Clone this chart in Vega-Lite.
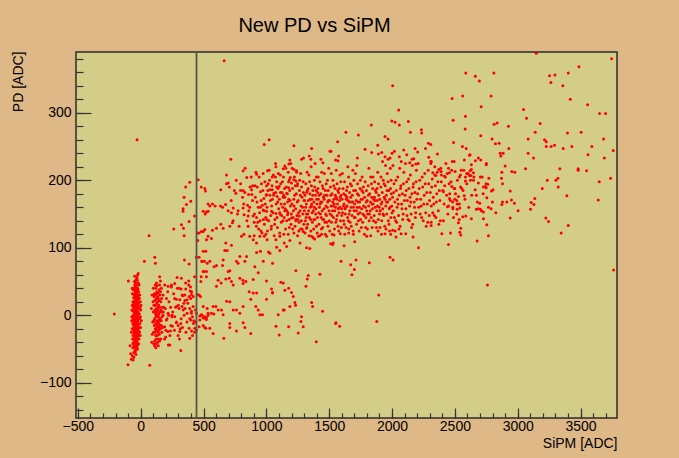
{
"$schema":"https://vega.github.io/schema/vega-lite/v6.json",
"width":541,"height":366,"autosize":"none",
"padding":{"left":76,"top":52,"right":62,"bottom":40},
"background":"#deb887",
"title":{"text":"New PD vs SiPM","font":"Liberation Sans","fontSize":20,"fontWeight":"normal","color":"#000000","anchor":"middle","dx":-32,"offset":-1,"baseline":"alphabetic","frame":"group"},
"config":{"view":{"fill":"#d4cd88","stroke":"#2b2b2b","strokeWidth":1.5},
"axis":{"grid":false,"domain":false,"labelFont":"Liberation Sans","labelFontSize":14,"labelColor":"#000000","titleFont":"Liberation Sans","titleFontSize":14,"titleFontWeight":"normal","titleColor":"#000000","tickColor":"#333333","tickWidth":1.2,"labelFlush":false,"labelOverlap":false,"labelBound":false}},
"datasets":{
"v":[{"x":444,"y":0}],
"p":[
{"x":-45,"y":2},{"x":-38,"y":10},{"x":-30,"y":-5},{"x":-52,"y":15},{"x":-25,"y":22},{"x":-40,"y":-18},{"x":-33,"y":30},{"x":-48,"y":-28},{"x":-20,"y":5},{"x":-58,"y":0},
{"x":-35,"y":-12},{"x":-42,"y":25},{"x":-28,"y":-25},{"x":-55,"y":-10},{"x":-22,"y":-15},{"x":-37,"y":38},{"x":-47,"y":-40},{"x":-30,"y":14},{"x":-62,"y":20},{"x":-18,"y":-30},
{"x":-41,"y":-3},{"x":-26,"y":33},{"x":-50,"y":8},{"x":-34,"y":-35},{"x":-44,"y":42},{"x":-23,"y":-8},{"x":-57,"y":-22},{"x":-31,"y":0},{"x":-39,"y":18},{"x":-46,"y":-14},
{"x":-29,"y":-42},{"x":-53,"y":30},{"x":-36,"y":7},{"x":-21,"y":27},{"x":-60,"y":-5},{"x":-43,"y":-25},{"x":-27,"y":12},{"x":-49,"y":-33},{"x":-32,"y":45},{"x":-38,"y":-20},
{"x":-24,"y":-2},{"x":-55,"y":40},{"x":-40,"y":3},{"x":-28,"y":-10},{"x":-51,"y":-45},{"x":-35,"y":24},{"x":-19,"y":18},{"x":-45,"y":-8},{"x":-30,"y":-30},{"x":-58,"y":12},
{"x":-42,"y":35},{"x":-26,"y":-20},{"x":-48,"y":20},{"x":-33,"y":-15},{"x":-22,"y":38},{"x":-54,"y":-35},{"x":-37,"y":-5},{"x":-29,"y":8},{"x":-44,"y":-38},{"x":-31,"y":28},
{"x":-64,"y":-12},{"x":-25,"y":-35},{"x":-47,"y":5},{"x":-39,"y":-28},{"x":-20,"y":-22},{"x":-52,"y":-18},{"x":-34,"y":16},{"x":-41,"y":48},{"x":-27,"y":-45},{"x":-56,"y":26},
{"x":-36,"y":-40},{"x":-23,"y":15},{"x":-49,"y":-2},{"x":-32,"y":-22},{"x":-45,"y":32},{"x":-30,"y":20},{"x":-61,"y":-30},{"x":-38,"y":-10},{"x":-24,"y":40},{"x":-50,"y":-25},
{"x":-35,"y":4},{"x":-43,"y":15},{"x":-28,"y":-32},{"x":-53,"y":-8},{"x":-40,"y":-45},{"x":-26,"y":0},{"x":-46,"y":22},{"x":-33,"y":36},{"x":-57,"y":-40},{"x":-21,"y":-12},
{"x":-39,"y":28},{"x":-48,"y":-12},{"x":-30,"y":-18},{"x":-44,"y":8},{"x":-25,"y":25},{"x":-36,"y":-28},{"x":-51,"y":38},{"x":-29,"y":-38},{"x":-42,"y":-20},{"x":-34,"y":-2},
{"x":-15,"y":10},{"x":-12,"y":-18},{"x":-10,"y":25},{"x":-8,"y":-5},{"x":-5,"y":12},{"x":-14,"y":-35},{"x":-70,"y":8},{"x":-68,"y":-20},{"x":-66,"y":32},{"x":-72,"y":-8},
{"x":-16,"y":35},{"x":-11,"y":2},{"x":-65,"y":-35},{"x":-9,"y":-25},{"x":-67,"y":15},{"x":-63,"y":-48},{"x":-6,"y":-12},{"x":-13,"y":45},{"x":-71,"y":-2},{"x":-3,"y":20},
{"x":-40,"y":52},{"x":-30,"y":55},{"x":-45,"y":-52},{"x":-35,"y":-50},{"x":-50,"y":50},{"x":-25,"y":-50},{"x":-38,"y":-58},{"x":-28,"y":52},{"x":-55,"y":-55},{"x":-42,"y":-48},
{"x":-60,"y":38},{"x":-18,"y":48},{"x":-62,"y":-42},{"x":-16,"y":-42},{"x":-47,"y":45},{"x":-33,"y":-48},{"x":-22,"y":-28},{"x":-59,"y":6},{"x":-37,"y":22},{"x":-43,"y":-32},
{"x":-31,"y":-8},{"x":-27,"y":18},{"x":-49,"y":28},{"x":-53,"y":-28},{"x":-36,"y":10},{"x":-24,"y":-18},{"x":-41,"y":-12},{"x":-46,"y":-22},{"x":-32,"y":4},{"x":-39,"y":42},
{"x":-20,"y":30},{"x":-56,"y":-15},{"x":-28,"y":28},{"x":-44,"y":-5},{"x":-34,"y":-42},{"x":-52,"y":2},{"x":-26,"y":-5},{"x":-38,"y":-35},{"x":-47,"y":12},{"x":-30,"y":35},
{"x":-54,"y":18},{"x":-2,"y":-2},{"x":0,"y":8},{"x":-4,"y":-30},{"x":2,"y":15},{"x":-7,"y":30},{"x":-1,"y":-18},{"x":5,"y":-8},{"x":-68,"y":40},{"x":-74,"y":-25},
{"x":-80,"y":-57},{"x":-61,"y":-66},{"x":-66,"y":-60},{"x":-43,"y":-54},{"x":-101,"y":-73},{"x":-27,"y":59},{"x":-98,"y":51},{"x":-210,"y":2},{"x":-29,"y":260},{"x":-75,"y":-65},{"x":-55,"y":-62},{"x":-48,"y":58},{"x":-20,"y":62},{"x":-85,"y":-45},
{"x":120,"y":5},{"x":135,"y":-10},{"x":128,"y":18},{"x":145,"y":2},{"x":110,"y":-5},{"x":140,"y":25},{"x":125,"y":-22},{"x":150,"y":12},{"x":115,"y":30},{"x":132,"y":-30},
{"x":105,"y":15},{"x":142,"y":-18},{"x":118,"y":-12},{"x":155,"y":-5},{"x":128,"y":35},{"x":138,"y":8},{"x":112,"y":22},{"x":148,"y":-28},{"x":122,"y":-35},{"x":160,"y":20},
{"x":130,"y":0},{"x":126,"y":10},{"x":140,"y":-2},{"x":116,"y":-20},{"x":152,"y":30},{"x":108,"y":-15},{"x":134,"y":28},{"x":145,"y":-12},{"x":120,"y":40},{"x":158,"y":-20},
{"x":100,"y":5},{"x":127,"y":-8},{"x":143,"y":15},{"x":113,"y":8},{"x":137,"y":-25},{"x":150,"y":-38},{"x":124,"y":25},{"x":102,"y":-25},{"x":147,"y":38},{"x":131,"y":-15},
{"x":119,"y":-30},{"x":154,"y":5},{"x":109,"y":32},{"x":141,"y":-35},{"x":129,"y":44},{"x":163,"y":-8},{"x":98,"y":20},{"x":136,"y":12},{"x":121,"y":-2},{"x":146,"y":22},
{"x":111,"y":-38},{"x":157,"y":35},{"x":133,"y":20},{"x":117,"y":15},{"x":149,"y":-5},{"x":125,"y":-42},{"x":104,"y":-8},{"x":139,"y":33},{"x":162,"y":8},{"x":114,"y":-25},
{"x":132,"y":5},{"x":127,"y":-18},{"x":144,"y":-22},{"x":118,"y":2},{"x":153,"y":-15},{"x":106,"y":28},{"x":138,"y":-8},{"x":123,"y":32},{"x":166,"y":25},{"x":95,"y":-10},
{"x":170,"y":-2},{"x":174,"y":12},{"x":168,"y":-25},{"x":90,"y":30},{"x":92,"y":-28},{"x":175,"y":-18},{"x":180,"y":5},{"x":85,"y":10},{"x":88,"y":-40},{"x":178,"y":30},
{"x":134,"y":-40},{"x":126,"y":48},{"x":115,"y":45},{"x":150,"y":45},{"x":110,"y":-45},{"x":140,"y":-45},{"x":160,"y":-35},{"x":100,"y":40},{"x":165,"y":40},{"x":120,"y":-48},
{"x":195,"y":10},{"x":210,"y":-5},{"x":225,"y":20},{"x":240,"y":-15},{"x":255,"y":5},{"x":270,"y":25},{"x":285,"y":-10},{"x":300,"y":15},{"x":315,"y":-20},{"x":330,"y":30},
{"x":345,"y":0},{"x":360,"y":-25},{"x":375,"y":18},{"x":390,"y":-5},{"x":405,"y":35},{"x":420,"y":-12},{"x":435,"y":8},{"x":200,"y":-22},{"x":232,"y":-30},{"x":262,"y":32},
{"x":292,"y":40},{"x":322,"y":-5},{"x":352,"y":22},{"x":382,"y":45},{"x":412,"y":-30},{"x":248,"y":-2},{"x":278,"y":12},{"x":308,"y":-35},{"x":338,"y":8},{"x":368,"y":-10},
{"x":398,"y":25},{"x":428,"y":-25},{"x":215,"y":35},{"x":245,"y":45},{"x":190,"y":-35},{"x":205,"y":25},{"x":222,"y":0},{"x":238,"y":12},{"x":268,"y":-22},{"x":298,"y":-15},
{"x":66,"y":118},{"x":29,"y":80},{"x":112,"y":86},{"x":117,"y":77},{"x":72,"y":-74},{"x":319,"y":-52},{"x":104,"y":-42},{"x":220,"y":-44},{"x":231,"y":-44},{"x":385,"y":76},
{"x":348,"y":82},{"x":398,"y":169},{"x":364,"y":164},{"x":337,"y":158},{"x":337,"y":154},{"x":385,"y":139},{"x":324,"y":134},{"x":340,"y":129},{"x":345,"y":118},{"x":263,"y":128},
{"x":428,"y":147},{"x":451,"y":122},{"x":465,"y":122},{"x":497,"y":124},{"x":513,"y":150},{"x":497,"y":154},{"x":536,"y":165},{"x":521,"y":153},{"x":454,"y":111},{"x":465,"y":86},
{"x":443,"y":86},{"x":497,"y":95},{"x":518,"y":95},{"x":489,"y":80},{"x":529,"y":77},{"x":478,"y":50},{"x":502,"y":65},{"x":523,"y":57},{"x":465,"y":30},{"x":451,"y":31},
{"x":475,"y":28},{"x":428,"y":57},{"x":382,"y":51},{"x":396,"y":42},{"x":393,"y":36},{"x":358,"y":48},{"x":324,"y":55},{"x":289,"y":56},{"x":271,"y":47},{"x":305,"y":40},
{"x":244,"y":42},{"x":218,"y":43},{"x":191,"y":45},{"x":157,"y":51},{"x":151,"y":57},{"x":284,"y":24},{"x":311,"y":23},{"x":335,"y":29},{"x":343,"y":18},{"x":390,"y":10},
{"x":404,"y":6},{"x":369,"y":3},{"x":412,"y":-2},{"x":398,"y":-7},{"x":430,"y":-19},{"x":443,"y":-22},{"x":438,"y":-10},{"x":489,"y":0},{"x":510,"y":-2},{"x":523,"y":-6},
{"x":536,"y":0},{"x":497,"y":-15},{"x":518,"y":-19},{"x":497,"y":13},{"x":529,"y":10},{"x":470,"y":-7},{"x":385,"y":-19},{"x":404,"y":-23},{"x":390,"y":-34},{"x":319,"y":-12},
{"x":332,"y":-18},{"x":311,"y":-24},{"x":297,"y":-30},{"x":250,"y":0},{"x":271,"y":-2},{"x":284,"y":-11},{"x":252,"y":-16},{"x":236,"y":-23},{"x":218,"y":3},{"x":204,"y":-7},
{"x":191,"y":-17},{"x":215,"y":-24},{"x":199,"y":-32},{"x":165,"y":5},{"x":183,"y":12},{"x":151,"y":-7},{"x":165,"y":-15},{"x":178,"y":0},{"x":284,"y":13},{"x":305,"y":10},
{"x":329,"y":13},{"x":353,"y":10},{"x":369,"y":23},{"x":321,"y":39},{"x":358,"y":39},{"x":404,"y":31},{"x":417,"y":28},{"x":385,"y":28},{"x":351,"y":30},{"x":664,"y":377},
{"x":390,"y":197},{"x":358,"y":190},{"x":345,"y":175},
{"x":1022,"y":260},{"x":983,"y":253},{"x":1219,"y":251},{"x":717,"y":231},{"x":1360,"y":247},{"x":1073,"y":225},{"x":1076,"y":220},{"x":1187,"y":230},{"x":1179,"y":224},{"x":1147,"y":221},
{"x":1134,"y":217},{"x":1219,"y":216},{"x":1240,"y":214},{"x":1280,"y":231},{"x":1296,"y":233},{"x":1341,"y":236},{"x":1354,"y":231},{"x":1434,"y":231},{"x":1450,"y":226},{"x":1514,"y":243},
{"x":1551,"y":230},{"x":815,"y":214},{"x":831,"y":218},{"x":1009,"y":214},{"x":683,"y":208},{"x":922,"y":209},{"x":844,"y":204},{"x":457,"y":201},{"x":1046,"y":205},{"x":481,"y":190},
{"x":510,"y":188},{"x":515,"y":184},{"x":637,"y":186},{"x":683,"y":195},{"x":696,"y":196},{"x":794,"y":185},{"x":815,"y":185},{"x":829,"y":182},{"x":882,"y":186},{"x":890,"y":192},
{"x":858,"y":179},{"x":884,"y":179},{"x":757,"y":181},{"x":1001,"y":192},{"x":1028,"y":186},{"x":1046,"y":186},{"x":1081,"y":190},{"x":1102,"y":191},{"x":1001,"y":179},{"x":980,"y":173},
{"x":1060,"y":181},{"x":1086,"y":176},{"x":1137,"y":178},{"x":1161,"y":181},{"x":1177,"y":189},{"x":1182,"y":201},{"x":1190,"y":204},{"x":1200,"y":196},{"x":1219,"y":201},{"x":1235,"y":199},
{"x":1245,"y":192},{"x":550,"y":162},{"x":571,"y":165},{"x":592,"y":162},{"x":536,"y":154},{"x":635,"y":162},{"x":651,"y":160},{"x":675,"y":164},{"x":696,"y":155},{"x":722,"y":152},
{"x":736,"y":159},{"x":775,"y":155},{"x":815,"y":159},{"x":850,"y":163},{"x":868,"y":160},{"x":823,"y":149},{"x":855,"y":147},{"x":895,"y":147},{"x":953,"y":160},{"x":975,"y":156},
{"x":1001,"y":154},{"x":1041,"y":154},{"x":1076,"y":151},{"x":1107,"y":152},{"x":1147,"y":155},{"x":1168,"y":149},{"x":1200,"y":144},{"x":1235,"y":142},{"x":1262,"y":147},{"x":922,"y":145},
{"x":903,"y":138},{"x":855,"y":132},{"x":783,"y":132},{"x":709,"y":132},{"x":730,"y":137},{"x":637,"y":135},{"x":656,"y":129},{"x":603,"y":129},{"x":571,"y":126},{"x":483,"y":124},
{"x":510,"y":127},{"x":536,"y":117},{"x":563,"y":114},{"x":523,"y":112},{"x":677,"y":107},{"x":722,"y":104},{"x":669,"y":96},{"x":688,"y":96},{"x":821,"y":120},{"x":802,"y":117},
{"x":868,"y":117},{"x":895,"y":112},{"x":922,"y":107},{"x":948,"y":117},{"x":983,"y":117},{"x":1006,"y":112},{"x":1076,"y":112},{"x":1107,"y":117},{"x":1174,"y":120},{"x":1187,"y":111},
{"x":1142,"y":107},{"x":1161,"y":102},{"x":1219,"y":122},{"x":1248,"y":118},{"x":1267,"y":107},{"x":1360,"y":117},{"x":1384,"y":113},{"x":1346,"y":99},{"x":1320,"y":100},{"x":1320,"y":129},
{"x":1293,"y":124},{"x":1272,"y":128},{"x":1439,"y":120},{"x":1413,"y":117},{"x":1479,"y":117},{"x":1511,"y":106},{"x":1532,"y":107},{"x":1081,"y":101},{"x":1107,"y":96},{"x":1028,"y":92},
{"x":842,"y":87},{"x":789,"y":87},{"x":762,"y":80},{"x":775,"y":77},{"x":829,"y":80},{"x":922,"y":93},{"x":953,"y":95},{"x":975,"y":80},{"x":1017,"y":94},{"x":1049,"y":77},
{"x":486,"y":80},{"x":507,"y":80},{"x":523,"y":65},{"x":497,"y":65},{"x":481,"y":57},{"x":550,"y":80},{"x":584,"y":72},{"x":603,"y":74},{"x":651,"y":74},{"x":656,"y":82},
{"x":696,"y":65},{"x":709,"y":66},{"x":616,"y":52},{"x":640,"y":48},{"x":603,"y":43},{"x":677,"y":54},{"x":704,"y":55},{"x":722,"y":50},{"x":736,"y":45},{"x":789,"y":55},
{"x":813,"y":52},{"x":815,"y":47},{"x":837,"y":50},{"x":895,"y":53},{"x":935,"y":63},{"x":908,"y":72},{"x":1001,"y":51},{"x":1041,"y":39},{"x":1049,"y":33},{"x":1134,"y":48},
{"x":1147,"y":37},{"x":1177,"y":40},{"x":1200,"y":34},{"x":1214,"y":28},{"x":1227,"y":19},{"x":1232,"y":15},{"x":1187,"y":13},{"x":1235,"y":66},{"x":1325,"y":54},{"x":1333,"y":59},
{"x":1426,"y":61},{"x":1315,"y":43},{"x":1115,"y":49},{"x":1360,"y":19},{"x":1368,"y":13},{"x":863,"y":35},{"x":895,"y":33},{"x":922,"y":33},{"x":876,"y":24},{"x":916,"y":13},
{"x":935,"y":8},{"x":948,"y":1},{"x":969,"y":1},{"x":1001,"y":24},{"x":1049,"y":34},{"x":815,"y":13},{"x":789,"y":3},{"x":736,"y":8},{"x":762,"y":8},{"x":709,"y":20},
{"x":683,"y":21},{"x":643,"y":8},{"x":656,"y":1},{"x":616,"y":8},{"x":576,"y":13},{"x":598,"y":13},{"x":563,"y":3},{"x":582,"y":2},{"x":536,"y":3},{"x":523,"y":-3},
{"x":510,"y":-4},{"x":483,"y":1},{"x":470,"y":-1},{"x":497,"y":-4},{"x":443,"y":3},{"x":417,"y":13},{"x":422,"y":-8},{"x":403,"y":3},{"x":465,"y":-17},{"x":510,"y":-18},
{"x":550,"y":-19},{"x":576,"y":-27},{"x":661,"y":-34},{"x":709,"y":-12},{"x":709,"y":-18},{"x":762,"y":-23},{"x":815,"y":-11},{"x":829,"y":-18},{"x":876,"y":-27},{"x":1076,"y":-16},
{"x":1102,"y":-29},{"x":1177,"y":-17},{"x":1253,"y":-26},{"x":1293,"y":-17},{"x":1280,"y":-2},{"x":1275,"y":-9},{"x":1134,"y":8},{"x":1094,"y":1},{"x":1142,"y":8},{"x":1397,"y":-39},
{"x":1551,"y":-12},{"x":1447,"y":6},
{"x":720,"y":170},{"x":745,"y":185},{"x":770,"y":150},{"x":795,"y":195},{"x":820,"y":165},{"x":845,"y":140},{"x":870,"y":190},{"x":890,"y":170},{"x":735,"y":140},{"x":760,"y":200},{"x":810,"y":175},{"x":860,"y":155},{"x":880,"y":205},{"x":705,"y":190},
{"x":905,"y":150},{"x":912,"y":175},{"x":920,"y":132},{"x":928,"y":190},{"x":935,"y":160},{"x":942,"y":205},{"x":950,"y":140},{"x":958,"y":170},{"x":965,"y":122},{"x":972,"y":185},
{"x":980,"y":155},{"x":988,"y":198},{"x":995,"y":145},{"x":903,"y":118},{"x":917,"y":212},{"x":939,"y":128},{"x":953,"y":183},{"x":968,"y":163},{"x":984,"y":135},{"x":999,"y":178},
{"x":925,"y":168},{"x":946,"y":152},{"x":961,"y":195},{"x":976,"y":142},{"x":991,"y":165},{"x":909,"y":192},{"x":932,"y":138},{"x":957,"y":125},{"x":974,"y":210},{"x":996,"y":120},
{"x":1005,"y":160},{"x":1012,"y":185},{"x":1018,"y":140},{"x":1025,"y":200},{"x":1032,"y":170},{"x":1038,"y":128},{"x":1045,"y":192},{"x":1052,"y":152},{"x":1058,"y":178},{"x":1065,"y":135},
{"x":1072,"y":205},{"x":1078,"y":165},{"x":1085,"y":145},{"x":1092,"y":188},{"x":1098,"y":158},{"x":1008,"y":125},{"x":1022,"y":215},{"x":1035,"y":148},{"x":1048,"y":172},{"x":1062,"y":118},
{"x":1075,"y":182},{"x":1088,"y":130},{"x":1095,"y":210},{"x":1015,"y":195},{"x":1042,"y":162},{"x":1068,"y":142},{"x":1082,"y":198},{"x":1028,"y":178},{"x":1055,"y":208},{"x":1090,"y":168},
{"x":1003,"y":142},{"x":1040,"y":132},
{"x":1103,"y":172},{"x":1108,"y":150},{"x":1114,"y":195},{"x":1119,"y":138},{"x":1125,"y":182},{"x":1130,"y":160},{"x":1136,"y":205},{"x":1141,"y":145},{"x":1147,"y":175},{"x":1152,"y":128},
{"x":1158,"y":190},{"x":1163,"y":155},{"x":1169,"y":168},{"x":1174,"y":212},{"x":1180,"y":142},{"x":1185,"y":185},{"x":1191,"y":162},{"x":1196,"y":135},{"x":1106,"y":122},{"x":1111,"y":208},
{"x":1117,"y":165},{"x":1122,"y":148},{"x":1128,"y":198},{"x":1133,"y":175},{"x":1139,"y":120},{"x":1144,"y":188},{"x":1150,"y":158},{"x":1155,"y":218},{"x":1161,"y":140},{"x":1166,"y":180},
{"x":1172,"y":152},{"x":1177,"y":198},{"x":1183,"y":130},{"x":1188,"y":170},{"x":1194,"y":225},{"x":1199,"y":150},{"x":1112,"y":182},{"x":1145,"y":165},{"x":1178,"y":172},{"x":1132,"y":140},
{"x":1203,"y":165},{"x":1208,"y":188},{"x":1213,"y":145},{"x":1218,"y":172},{"x":1223,"y":205},{"x":1228,"y":132},{"x":1233,"y":158},{"x":1238,"y":180},{"x":1243,"y":148},{"x":1248,"y":195},
{"x":1253,"y":170},{"x":1258,"y":125},{"x":1263,"y":185},{"x":1268,"y":155},{"x":1273,"y":210},{"x":1278,"y":140},{"x":1283,"y":175},{"x":1288,"y":160},{"x":1293,"y":198},{"x":1298,"y":135},
{"x":1205,"y":218},{"x":1215,"y":155},{"x":1225,"y":178},{"x":1235,"y":140},{"x":1245,"y":168},{"x":1255,"y":152},{"x":1265,"y":200},{"x":1275,"y":162},{"x":1285,"y":128},{"x":1295,"y":182},
{"x":1210,"y":128},{"x":1230,"y":192},{"x":1250,"y":142},{"x":1270,"y":178},{"x":1290,"y":150},{"x":1220,"y":162},{"x":1240,"y":212},{"x":1260,"y":138},{"x":1280,"y":190},{"x":1300,"y":170},
{"x":1302,"y":155},{"x":1306,"y":178},{"x":1310,"y":140},{"x":1314,"y":195},{"x":1318,"y":165},{"x":1322,"y":130},{"x":1326,"y":185},{"x":1330,"y":150},{"x":1334,"y":170},{"x":1338,"y":208},
{"x":1342,"y":145},{"x":1346,"y":180},{"x":1350,"y":160},{"x":1354,"y":125},{"x":1358,"y":192},{"x":1362,"y":172},{"x":1366,"y":138},{"x":1370,"y":185},{"x":1374,"y":155},{"x":1378,"y":168},
{"x":1382,"y":200},{"x":1386,"y":142},{"x":1390,"y":178},{"x":1394,"y":158},{"x":1398,"y":132},{"x":1304,"y":170},{"x":1312,"y":160},{"x":1320,"y":182},{"x":1328,"y":135},{"x":1336,"y":155},
{"x":1344,"y":198},{"x":1352,"y":142},{"x":1360,"y":165},{"x":1368,"y":178},{"x":1376,"y":128},{"x":1384,"y":190},{"x":1392,"y":150},{"x":1400,"y":172},{"x":1316,"y":145},{"x":1332,"y":188},
{"x":1348,"y":172},{"x":1364,"y":152},{"x":1380,"y":160},{"x":1396,"y":185},{"x":1324,"y":212},{"x":1340,"y":118},{"x":1356,"y":220},{"x":1372,"y":115},{"x":1388,"y":225},{"x":1308,"y":122},
{"x":1378,"y":142},{"x":1358,"y":162},{"x":1318,"y":150},{"x":1398,"y":205},
{"x":1402,"y":165},{"x":1406,"y":145},{"x":1410,"y":188},{"x":1414,"y":172},{"x":1418,"y":135},{"x":1422,"y":160},{"x":1426,"y":198},{"x":1430,"y":150},{"x":1434,"y":180},{"x":1438,"y":128},
{"x":1442,"y":168},{"x":1446,"y":192},{"x":1450,"y":142},{"x":1454,"y":175},{"x":1458,"y":158},{"x":1462,"y":210},{"x":1466,"y":138},{"x":1470,"y":185},{"x":1474,"y":162},{"x":1478,"y":148},
{"x":1482,"y":178},{"x":1486,"y":200},{"x":1490,"y":132},{"x":1494,"y":170},{"x":1498,"y":155},{"x":1404,"y":122},{"x":1412,"y":205},{"x":1420,"y":178},{"x":1428,"y":165},{"x":1436,"y":145},
{"x":1444,"y":155},{"x":1452,"y":188},{"x":1460,"y":172},{"x":1468,"y":120},{"x":1476,"y":195},{"x":1484,"y":160},{"x":1492,"y":185},{"x":1500,"y":140},{"x":1416,"y":152},{"x":1432,"y":168},
{"x":1448,"y":130},{"x":1464,"y":178},{"x":1480,"y":138},{"x":1496,"y":218},{"x":1408,"y":182},{"x":1440,"y":212},{"x":1472,"y":150},{"x":1488,"y":168},{"x":1456,"y":142},{"x":1424,"y":118},
{"x":1502,"y":170},{"x":1506,"y":150},{"x":1510,"y":190},{"x":1514,"y":162},{"x":1518,"y":138},{"x":1522,"y":180},{"x":1526,"y":155},{"x":1530,"y":200},{"x":1534,"y":145},{"x":1538,"y":172},
{"x":1542,"y":128},{"x":1546,"y":188},{"x":1550,"y":160},{"x":1554,"y":175},{"x":1558,"y":142},{"x":1562,"y":195},{"x":1566,"y":165},{"x":1570,"y":132},{"x":1574,"y":182},{"x":1578,"y":152},
{"x":1582,"y":170},{"x":1586,"y":208},{"x":1590,"y":140},{"x":1594,"y":178},{"x":1598,"y":158},{"x":1504,"y":125},{"x":1512,"y":178},{"x":1520,"y":148},{"x":1528,"y":168},{"x":1536,"y":192},
{"x":1544,"y":155},{"x":1552,"y":138},{"x":1560,"y":172},{"x":1568,"y":185},{"x":1576,"y":125},{"x":1584,"y":160},{"x":1592,"y":198},{"x":1600,"y":148},{"x":1516,"y":210},{"x":1532,"y":162},
{"x":1548,"y":178},{"x":1564,"y":148},{"x":1580,"y":188},{"x":1596,"y":130},{"x":1524,"y":120},{"x":1556,"y":215},{"x":1588,"y":175},{"x":1540,"y":165},{"x":1572,"y":158},
{"x":1602,"y":172},{"x":1606,"y":152},{"x":1610,"y":188},{"x":1614,"y":140},{"x":1618,"y":165},{"x":1622,"y":198},{"x":1626,"y":158},{"x":1630,"y":178},{"x":1634,"y":130},{"x":1638,"y":185},
{"x":1642,"y":162},{"x":1646,"y":145},{"x":1650,"y":170},{"x":1654,"y":205},{"x":1658,"y":150},{"x":1662,"y":182},{"x":1666,"y":138},{"x":1670,"y":175},{"x":1674,"y":160},{"x":1678,"y":192},
{"x":1682,"y":148},{"x":1686,"y":168},{"x":1690,"y":125},{"x":1694,"y":185},{"x":1698,"y":155},{"x":1604,"y":210},{"x":1612,"y":162},{"x":1620,"y":135},{"x":1628,"y":150},{"x":1636,"y":172},
{"x":1644,"y":190},{"x":1652,"y":140},{"x":1660,"y":168},{"x":1668,"y":195},{"x":1676,"y":132},{"x":1684,"y":178},{"x":1692,"y":160},{"x":1700,"y":145},{"x":1616,"y":180},{"x":1632,"y":160},
{"x":1648,"y":220},{"x":1664,"y":155},{"x":1680,"y":168},{"x":1696,"y":200},{"x":1624,"y":120},{"x":1656,"y":128},{"x":1688,"y":215},{"x":1640,"y":175},
{"x":1702,"y":165},{"x":1706,"y":145},{"x":1710,"y":185},{"x":1714,"y":170},{"x":1718,"y":135},{"x":1722,"y":160},{"x":1726,"y":195},{"x":1730,"y":150},{"x":1734,"y":178},{"x":1738,"y":125},
{"x":1742,"y":168},{"x":1746,"y":188},{"x":1750,"y":142},{"x":1754,"y":172},{"x":1758,"y":158},{"x":1762,"y":205},{"x":1766,"y":138},{"x":1770,"y":182},{"x":1774,"y":162},{"x":1778,"y":148},
{"x":1782,"y":175},{"x":1786,"y":198},{"x":1790,"y":130},{"x":1794,"y":168},{"x":1798,"y":155},{"x":1708,"y":210},{"x":1716,"y":155},{"x":1724,"y":180},{"x":1732,"y":140},{"x":1740,"y":160},
{"x":1748,"y":200},{"x":1756,"y":130},{"x":1764,"y":172},{"x":1772,"y":190},{"x":1780,"y":120},{"x":1788,"y":160},{"x":1796,"y":185},{"x":1720,"y":222},{"x":1744,"y":152},{"x":1768,"y":150},
{"x":1792,"y":145},{"x":1728,"y":168},{"x":1760,"y":185},
{"x":1802,"y":170},{"x":1806,"y":150},{"x":1810,"y":192},{"x":1814,"y":162},{"x":1818,"y":140},{"x":1822,"y":180},{"x":1826,"y":155},{"x":1830,"y":205},{"x":1834,"y":145},{"x":1838,"y":175},
{"x":1842,"y":130},{"x":1846,"y":188},{"x":1850,"y":165},{"x":1854,"y":172},{"x":1858,"y":148},{"x":1862,"y":198},{"x":1866,"y":160},{"x":1870,"y":138},{"x":1874,"y":182},{"x":1878,"y":155},
{"x":1882,"y":170},{"x":1886,"y":212},{"x":1890,"y":142},{"x":1894,"y":178},{"x":1898,"y":160},{"x":1804,"y":128},{"x":1812,"y":178},{"x":1820,"y":150},{"x":1828,"y":168},{"x":1836,"y":195},
{"x":1844,"y":158},{"x":1852,"y":140},{"x":1860,"y":175},{"x":1868,"y":185},{"x":1876,"y":130},{"x":1884,"y":162},{"x":1892,"y":195},{"x":1900,"y":150},{"x":1816,"y":218},{"x":1840,"y":165},
{"x":1864,"y":170},{"x":1888,"y":125},{"x":1848,"y":205},{"x":1880,"y":188},
{"x":1902,"y":172},{"x":1906,"y":155},{"x":1910,"y":190},{"x":1914,"y":165},{"x":1918,"y":140},{"x":1922,"y":182},{"x":1926,"y":158},{"x":1930,"y":200},{"x":1934,"y":148},{"x":1938,"y":175},
{"x":1942,"y":132},{"x":1946,"y":192},{"x":1950,"y":162},{"x":1954,"y":178},{"x":1958,"y":150},{"x":1962,"y":210},{"x":1966,"y":168},{"x":1970,"y":140},{"x":1974,"y":185},{"x":1978,"y":158},
{"x":1982,"y":172},{"x":1986,"y":218},{"x":1990,"y":145},{"x":1994,"y":180},{"x":1998,"y":162},{"x":1904,"y":130},{"x":1912,"y":205},{"x":1920,"y":168},{"x":1928,"y":150},{"x":1936,"y":195},
{"x":1944,"y":172},{"x":1952,"y":128},{"x":1960,"y":185},{"x":1968,"y":198},{"x":1976,"y":135},{"x":1984,"y":160},{"x":1992,"y":200},{"x":2000,"y":152},{"x":1916,"y":120},{"x":1948,"y":222},
{"x":1980,"y":125},{"x":1924,"y":228},{"x":1956,"y":168},{"x":1988,"y":188},
{"x":2004,"y":175},{"x":2010,"y":155},{"x":2016,"y":195},{"x":2022,"y":168},{"x":2028,"y":140},{"x":2034,"y":185},{"x":2040,"y":160},{"x":2046,"y":205},{"x":2052,"y":148},{"x":2058,"y":178},
{"x":2064,"y":132},{"x":2070,"y":192},{"x":2076,"y":165},{"x":2082,"y":180},{"x":2088,"y":150},{"x":2094,"y":212},{"x":2098,"y":170},{"x":2007,"y":222},{"x":2019,"y":145},{"x":2031,"y":200},
{"x":2043,"y":172},{"x":2055,"y":128},{"x":2067,"y":188},{"x":2079,"y":158},{"x":2091,"y":195},{"x":2013,"y":182},{"x":2037,"y":138},{"x":2061,"y":218},{"x":2085,"y":142},{"x":2049,"y":165},
{"x":2073,"y":228},{"x":2025,"y":125},
{"x":2104,"y":178},{"x":2110,"y":158},{"x":2116,"y":198},{"x":2122,"y":170},{"x":2128,"y":142},{"x":2134,"y":188},{"x":2140,"y":162},{"x":2146,"y":208},{"x":2152,"y":150},{"x":2158,"y":180},
{"x":2164,"y":135},{"x":2170,"y":195},{"x":2176,"y":168},{"x":2182,"y":182},{"x":2188,"y":152},{"x":2194,"y":215},{"x":2198,"y":172},{"x":2107,"y":225},{"x":2119,"y":148},{"x":2131,"y":202},
{"x":2143,"y":175},{"x":2155,"y":130},{"x":2167,"y":190},{"x":2179,"y":160},{"x":2191,"y":198},{"x":2113,"y":185},{"x":2137,"y":140},{"x":2161,"y":222},{"x":2185,"y":145},{"x":2149,"y":168},
{"x":2173,"y":232},
{"x":2204,"y":180},{"x":2212,"y":160},{"x":2220,"y":200},{"x":2228,"y":172},{"x":2236,"y":145},{"x":2244,"y":190},{"x":2252,"y":165},{"x":2260,"y":210},{"x":2268,"y":152},{"x":2276,"y":182},
{"x":2284,"y":138},{"x":2292,"y":195},{"x":2298,"y":170},{"x":2208,"y":225},{"x":2224,"y":150},{"x":2240,"y":205},{"x":2256,"y":178},{"x":2272,"y":132},{"x":2288,"y":215},{"x":2216,"y":188},
{"x":2248,"y":140},{"x":2280,"y":165},{"x":2232,"y":162},{"x":2264,"y":195},{"x":2296,"y":148},
{"x":2304,"y":182},{"x":2312,"y":162},{"x":2320,"y":202},{"x":2328,"y":175},{"x":2336,"y":148},{"x":2344,"y":192},{"x":2352,"y":168},{"x":2360,"y":212},{"x":2368,"y":155},{"x":2376,"y":185},
{"x":2384,"y":140},{"x":2392,"y":198},{"x":2308,"y":228},{"x":2324,"y":152},{"x":2340,"y":208},{"x":2356,"y":180},{"x":2372,"y":135},{"x":2388,"y":218},{"x":2316,"y":190},{"x":2348,"y":145},
{"x":2380,"y":170},{"x":2332,"y":165},{"x":2364,"y":198},
{"x":2404,"y":185},{"x":2414,"y":165},{"x":2424,"y":205},{"x":2434,"y":178},{"x":2444,"y":150},{"x":2454,"y":195},{"x":2464,"y":170},{"x":2474,"y":215},{"x":2484,"y":158},{"x":2494,"y":188},
{"x":2409,"y":140},{"x":2429,"y":225},{"x":2449,"y":162},{"x":2469,"y":198},{"x":2489,"y":145},{"x":2419,"y":192},{"x":2439,"y":210},{"x":2459,"y":180},{"x":2479,"y":228},{"x":2499,"y":172},
{"x":2505,"y":180},{"x":2520,"y":200},{"x":2535,"y":165},{"x":2550,"y":215},{"x":2565,"y":185},{"x":2580,"y":172},{"x":2595,"y":195},{"x":2610,"y":160},{"x":2515,"y":150},{"x":2545,"y":190},
{"x":2575,"y":230},{"x":2605,"y":210},
{"x":2005,"y":340},{"x":2563,"y":325},{"x":2478,"y":321},{"x":2053,"y":304},{"x":2584,"y":295},{"x":2486,"y":289},{"x":1835,"y":282},{"x":1998,"y":288},{"x":2024,"y":286},{"x":2058,"y":282},
{"x":2130,"y":287},{"x":2146,"y":271},{"x":2234,"y":275},{"x":2236,"y":270},{"x":2582,"y":276},{"x":1633,"y":271},{"x":1732,"y":267},{"x":1944,"y":265},{"x":1968,"y":261},{"x":1567,"y":257},
{"x":1506,"y":243},{"x":1785,"y":246},{"x":1886,"y":252},{"x":2289,"y":255},{"x":2308,"y":253},{"x":2489,"y":256},{"x":2560,"y":250},{"x":2590,"y":247},{"x":2183,"y":247},{"x":2204,"y":242},
{"x":2093,"y":245},{"x":2117,"y":238},{"x":2019,"y":243},{"x":2000,"y":240},{"x":1984,"y":233},{"x":1918,"y":241},{"x":1891,"y":239},{"x":1838,"y":241},{"x":1575,"y":236},{"x":1570,"y":229},
{"x":1724,"y":233},{"x":1944,"y":235},{"x":1968,"y":231},{"x":2058,"y":235},{"x":2141,"y":226},{"x":2159,"y":231},{"x":2189,"y":224},{"x":2266,"y":247},{"x":2292,"y":234},{"x":2313,"y":228},
{"x":2361,"y":239},{"x":2494,"y":228},{"x":2616,"y":237},{"x":2449,"y":218},{"x":2457,"y":211},{"x":2502,"y":213},{"x":2571,"y":215},{"x":2595,"y":210},{"x":2616,"y":207},{"x":2584,"y":205},
{"x":2308,"y":225},{"x":2340,"y":220},{"x":2372,"y":216},{"x":2390,"y":213},{"x":2393,"y":208},{"x":2417,"y":206},{"x":2324,"y":211},{"x":2348,"y":207},{"x":2409,"y":183},{"x":2544,"y":208},
{"x":2536,"y":205},{"x":2475,"y":191},{"x":2499,"y":188},{"x":2555,"y":188},{"x":2584,"y":199},{"x":2574,"y":177},{"x":2528,"y":176},{"x":2515,"y":170},{"x":2518,"y":165},{"x":2457,"y":173},
{"x":2483,"y":168},{"x":2441,"y":161},{"x":2539,"y":159},{"x":2518,"y":157},{"x":2483,"y":160},{"x":2587,"y":147},{"x":2563,"y":146},{"x":2534,"y":142},{"x":2528,"y":137},{"x":2547,"y":129},
{"x":2539,"y":123},{"x":2547,"y":119},{"x":2465,"y":122},{"x":2396,"y":121},{"x":2449,"y":105},{"x":2210,"y":100},{"x":2587,"y":359},
{"x":1594,"y":80},{"x":1671,"y":75},{"x":1713,"y":82},{"x":1700,"y":68},{"x":1681,"y":60},{"x":1819,"y":78},{"x":1984,"y":86},{"x":2008,"y":82},{"x":1894,"y":30},{"x":1878,"y":-9},
{"x":1554,"y":-11},{"x":1583,"y":-16},{"x":1618,"y":103},{"x":1527,"y":105},{"x":1703,"y":109},{"x":2109,"y":121},{"x":2167,"y":116},{"x":2032,"y":116},{"x":2072,"y":121},{"x":1989,"y":120},
{"x":2005,"y":126},{"x":1944,"y":121},{"x":1830,"y":118},{"x":1798,"y":117},{"x":1538,"y":119},{"x":1588,"y":121},{"x":1655,"y":122},{"x":1692,"y":120},{"x":2311,"y":138},{"x":2311,"y":133},
{"x":3147,"y":388},{"x":3747,"y":380},{"x":3487,"y":368},{"x":2663,"y":354},{"x":2810,"y":359},{"x":2695,"y":347},{"x":3253,"y":355},{"x":3296,"y":356},{"x":3264,"y":345},{"x":3402,"y":359},
{"x":3359,"y":340},{"x":2788,"y":325},{"x":3418,"y":320},{"x":3556,"y":312},{"x":2709,"y":309},{"x":3046,"y":305},{"x":3651,"y":299},{"x":3699,"y":299},{"x":3070,"y":292},{"x":2836,"y":285},
{"x":2812,"y":283},{"x":3179,"y":284},{"x":2926,"y":280},{"x":3139,"y":271},{"x":3396,"y":270},{"x":3505,"y":271},{"x":2706,"y":266},{"x":2796,"y":261},{"x":3083,"y":261},{"x":3213,"y":260},
{"x":3683,"y":261},{"x":2823,"y":254},{"x":2852,"y":255},{"x":3227,"y":257},{"x":3227,"y":250},{"x":3266,"y":250},{"x":3293,"y":252},{"x":3590,"y":250},{"x":3431,"y":250},{"x":3362,"y":247},
{"x":2929,"y":247},{"x":3760,"y":244},{"x":2860,"y":240},{"x":2884,"y":240},{"x":3083,"y":240},{"x":3559,"y":238},{"x":2866,"y":236},{"x":2621,"y":238},{"x":3126,"y":233},{"x":3689,"y":233},
{"x":2663,"y":229},{"x":2706,"y":230},{"x":2687,"y":233},{"x":2751,"y":225},{"x":2749,"y":223},{"x":2631,"y":223},{"x":2900,"y":221},{"x":3062,"y":217},{"x":3335,"y":217},{"x":3481,"y":217},
{"x":3481,"y":215},{"x":3548,"y":214},{"x":2648,"y":211},{"x":2621,"y":214},{"x":2631,"y":216},{"x":2874,"y":212},{"x":2953,"y":213},{"x":2977,"y":212},{"x":2627,"y":207},{"x":2651,"y":205},
{"x":2703,"y":205},{"x":2717,"y":205},{"x":2770,"y":203},{"x":2871,"y":203},{"x":2624,"y":200},{"x":2648,"y":200},{"x":2687,"y":196},{"x":3235,"y":200},{"x":3304,"y":200},{"x":3320,"y":203},
{"x":3739,"y":203},{"x":3649,"y":198},{"x":2879,"y":195},{"x":2749,"y":195},{"x":2762,"y":194},{"x":2741,"y":191},{"x":2749,"y":189},{"x":2727,"y":190},{"x":2804,"y":186},{"x":2791,"y":184},
{"x":3322,"y":190},{"x":3195,"y":188},{"x":2661,"y":186},{"x":2940,"y":184},{"x":2725,"y":180},{"x":2634,"y":178},{"x":2671,"y":178},{"x":3391,"y":177},{"x":2754,"y":174},{"x":3136,"y":173},
{"x":2799,"y":168},{"x":2879,"y":168},{"x":2913,"y":168},{"x":2950,"y":171},{"x":3107,"y":167},{"x":3129,"y":164},{"x":2679,"y":168},{"x":2698,"y":166},{"x":2974,"y":166},{"x":3641,"y":171},
{"x":2874,"y":164},{"x":2767,"y":160},{"x":2788,"y":158},{"x":2671,"y":157},{"x":2687,"y":158},{"x":2703,"y":157},{"x":2711,"y":155},{"x":2727,"y":153},{"x":3102,"y":157},{"x":2826,"y":152},
{"x":3003,"y":155},{"x":2631,"y":143},{"x":2727,"y":143},{"x":2940,"y":144},{"x":3224,"y":144},{"x":3245,"y":139},{"x":2754,"y":134},{"x":3402,"y":133},{"x":2767,"y":118},{"x":3346,"y":122},
{"x":2677,"y":110},{"x":3763,"y":67},{"x":2759,"y":45}
]},
"resolve":{"axis":{"x":"independent","y":"independent"}},
"layer":[
{"data":{"name":"p"},"mark":{"type":"circle","size":9,"color":"#ff0000","opacity":1},
"encoding":{
"x":{"field":"x","type":"quantitative","scale":{"domain":[-515,3790],"nice":false,"zero":false},
"axis":{"orient":"bottom","values":[-500,0,500,1000,1500,2000,2500,3000,3500],"format":"d","ticks":false,"labelPadding":1,"labelBaseline":"top","title":"SiPM [ADC]","titleX":541,"titleY":18,"titleAlign":"right","titleBaseline":"top","titleAnchor":"end"}},
"y":{"field":"y","type":"quantitative","scale":{"domain":[-152,390],"nice":false,"zero":false},
"axis":{"orient":"left","values":[-100,0,100,200,300],"format":"d","ticks":false,"labelPadding":5,"title":"PD [ADC]","titleAngle":270,"titleX":-58,"titleY":-1,"titleAlign":"right","titleBaseline":"middle","titleAnchor":"end"}}}},
{"data":{"name":"v"},"mark":{"type":"point","opacity":0},
"encoding":{
"x":{"field":"x","type":"quantitative","scale":{"domain":[-515,3790],"nice":false,"zero":false},
"axis":{"orient":"bottom","values":[-500,0,500,1000,1500,2000,2500,3000,3500],"labels":false,"ticks":true,"tickSize":-10,"title":null,"zindex":1}},
"y":{"field":"y","type":"quantitative","scale":{"domain":[-152,390],"nice":false,"zero":false},
"axis":{"orient":"left","values":[-100,0,100,200,300],"labels":false,"ticks":true,"tickSize":-15,"title":null,"zindex":1}}}},
{"data":{"name":"v"},"mark":{"type":"point","opacity":0},
"encoding":{
"x":{"field":"x","type":"quantitative","scale":{"domain":[-515,3790],"nice":false,"zero":false},
"axis":{"orient":"bottom","values":[-500,-400,-300,-200,-100,0,100,200,300,400,500,600,700,800,900,1000,1100,1200,1300,1400,1500,1600,1700,1800,1900,2000,2100,2200,2300,2400,2500,2600,2700,2800,2900,3000,3100,3200,3300,3400,3500,3600,3700],"labels":false,"ticks":true,"tickSize":-5,"title":null,"zindex":1}},
"y":{"field":"y","type":"quantitative","scale":{"domain":[-152,390],"nice":false,"zero":false},
"axis":{"orient":"left","values":[-140,-120,-100,-80,-60,-40,-20,0,20,40,60,80,100,120,140,160,180,200,220,240,260,280,300,320,340,360,380],"labels":false,"ticks":true,"tickSize":-7,"title":null,"zindex":1}}}},
{"data":{"name":"v"},"mark":{"type":"rule","color":"#555548","strokeWidth":1.8},
"encoding":{"x":{"field":"x","type":"quantitative","axis":null}}}
]
}
